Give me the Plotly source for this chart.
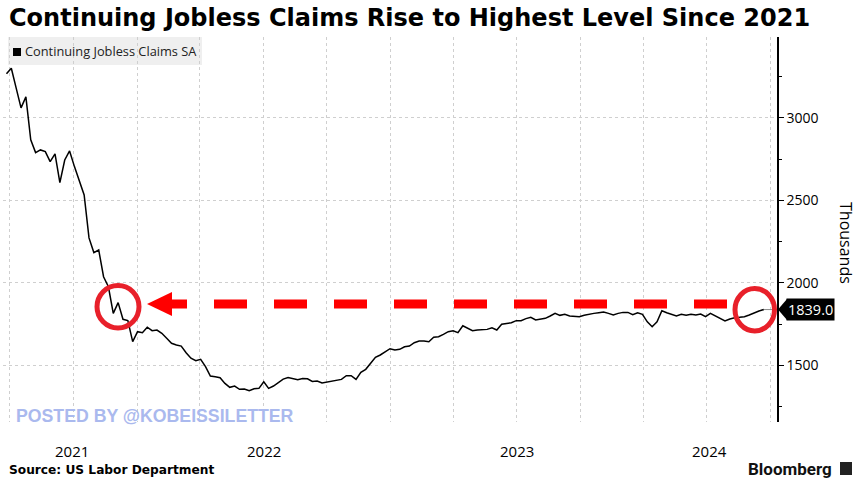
import pandas as pd
import plotly.graph_objects as go

# ---------------- data ----------------
start_week = "2021-06-26"
claims = [
    3267, 3301, 3180, 3061, 3127, 2867, 2790, 2806, 2796, 2735,
    2782, 2608, 2745, 2800, 2705, 2624, 2533, 2273, 2184, 2200,
    2038, 1977, 1816, 1881, 1780, 1772, 1645, 1705, 1699, 1732,
    1711, 1715, 1695, 1665, 1635, 1624, 1618, 1578, 1544, 1529,
    1538, 1493, 1436, 1432, 1426, 1392, 1368, 1376, 1356, 1358,
    1347, 1359, 1362, 1402, 1362, 1376, 1398, 1418, 1428, 1422,
    1414, 1422, 1420, 1404, 1406, 1394, 1400, 1404, 1412, 1416,
    1438, 1438, 1416, 1459, 1477, 1517, 1550, 1564, 1584, 1602,
    1594, 1598, 1614, 1618, 1638, 1648, 1648, 1644, 1671, 1675,
    1689, 1705, 1711, 1699, 1741, 1725, 1711, 1715, 1715, 1719,
    1729, 1715, 1750, 1756, 1759, 1772, 1772, 1784, 1792, 1776,
    1780, 1786, 1800, 1816, 1804, 1810, 1800, 1796, 1796, 1804,
    1812, 1816, 1820, 1824, 1816, 1806, 1816, 1822, 1822, 1808,
    1820, 1810, 1765, 1735, 1765, 1832, 1820, 1808, 1800, 1810,
    1804, 1810, 1806, 1812, 1796, 1816, 1800, 1786, 1770, 1782,
    1790, 1792, 1796, 1806, 1820, 1830, 1839,
]
dates = pd.date_range(start_week, periods=len(claims), freq="7D")

quarter_grid = pd.date_range("2021-07-01", "2024-07-01", freq="QS")
year_labels = ["2021", "2022", "2023", "2024"]
year_label_pos = ["2021-09-28", "2022-07-02", "2023-07-02", "2024-04-04"]
y_ticks = [1500, 2000, 2500, 3000]
x_range = ["2021-06-21", "2024-07-11"]
y_range = [1158, 3490]

title = "Continuing Jobless Claims Rise to Highest Level Since 2021"
series_name = "Continuing Jobless Claims SA"
source = "Source: US Labor Department"
watermark = "POSTED BY @KOBEISSILETTER"
last_val = claims[-1]

# ---------------- layout helpers ----------------
W, H = 863, 489
L, R, T, B = 3, 777, 37, 422


def px(x):
    return (x - L) / (R - L)


def py(y):
    return (B - y) / (B - T)


fig = go.Figure()
fig.add_trace(go.Scatter(x=dates, y=claims, mode="lines", name=series_name,
                         line=dict(color="black", width=1.5), hoverinfo="skip"))
fig.add_trace(go.Scatter(x=[dates[-1], x_range[1]], y=[last_val, last_val], mode="lines",
                         line=dict(color="#8a8a8a", width=1), hoverinfo="skip",
                         showlegend=False))

red = "#ff0000"
circ = "#e8202a"
shapes = [
    # legend box
    dict(type="rect", xref="paper", yref="paper", x0=px(8), x1=px(202), y0=py(65), y1=py(37),
         fillcolor="#efefef", line=dict(width=0), layer="below"),
    dict(type="rect", xref="paper", yref="paper", x0=px(13), x1=px(21), y0=py(56), y1=py(48),
         fillcolor="black", line=dict(width=0)),
    # red circles
    dict(type="circle", xref="paper", yref="paper", x0=px(97), x1=px(139), y0=py(328), y1=py(285.5),
         line=dict(color=circ, width=5)),
    dict(type="circle", xref="paper", yref="paper", x0=px(735), x1=px(774.5), y0=py(331), y1=py(288.5),
         line=dict(color=circ, width=5)),
    # dashed arrow shaft
    dict(type="line", xref="paper", yref="paper", x0=px(727), x1=px(170), y0=py(304), y1=py(304),
         line=dict(color=red, width=9, dash="33px,27px")),
    # arrow head
    dict(type="path", xref="paper", yref="paper",
         path=f"M {px(147)},{py(304)} L {px(172)},{py(292)} L {px(172)},{py(316)} Z",
         fillcolor=red, line=dict(width=0)),
    # last value pointer
    dict(type="path", xref="paper", yref="paper",
         path=f"M {px(778)},{py(309.5)} L {px(787)},{py(299)} L {px(787)},{py(320)} Z",
         fillcolor="black", line=dict(width=0)),
    # bloomberg icon
    dict(type="rect", xref="paper", yref="paper", x0=px(840), x1=px(852), y0=py(475), y1=py(462),
         fillcolor="#222", line=dict(width=0)),
]

annotations = [
    dict(text=f"<b>{title}</b>", xref="paper", yref="paper", x=px(7), y=py(18),
         xanchor="left", yanchor="middle", showarrow=False,
         font=dict(family="DejaVu Sans", size=24, color="black")),
    dict(text=series_name, xref="paper", yref="paper", x=px(23), y=py(51.5),
         xanchor="left", yanchor="middle", showarrow=False,
         font=dict(family="Open Sans", size=12.8, color="#222")),
    dict(text="Thousands", xref="paper", yref="paper", x=px(846), y=py(243),
         xanchor="center", yanchor="middle", showarrow=False, textangle=90,
         font=dict(family="Open Sans", size=16, color="black")),
    dict(text=f"{last_val:.1f}", xref="paper", yref="y", x=px(786), y=last_val,
         xanchor="left", yanchor="middle", showarrow=False, bgcolor="black", borderpad=1,
         font=dict(family="Open Sans", size=14.5, color="white")),
    dict(text=f"<b>{watermark}</b>", xref="paper", yref="paper", x=px(14), y=py(416),
         xanchor="left", yanchor="middle", showarrow=False,
         font=dict(family="Liberation Sans", size=17.7, color="#aab9ee")),
    dict(text=f"<b>{source}</b>", xref="paper", yref="paper", x=px(7), y=py(470),
         xanchor="left", yanchor="middle", showarrow=False,
         font=dict(family="DejaVu Sans", size=12.2, color="black")),
    dict(text="<b>Bloomberg</b>", xref="paper", yref="paper", x=px(834), y=py(469),
         xanchor="right", yanchor="middle", showarrow=False,
         font=dict(family="Roboto", size=17, color="#111")),
]
for lab, pos in zip(year_labels, year_label_pos):
    annotations.append(dict(text=lab, x=pos, xref="x", yref="paper", y=py(451),
                            xanchor="center", yanchor="middle", showarrow=False,
                            font=dict(family="Open Sans", size=15, color="black")))

fig.update_layout(
    width=W, height=H,
    margin=dict(l=L, r=W - R, t=T, b=H - B),
    paper_bgcolor="white", plot_bgcolor="white",
    showlegend=False,
    shapes=shapes, annotations=annotations,
    xaxis=dict(range=x_range, tickvals=list(quarter_grid), showticklabels=False,
               showgrid=True, gridcolor="#cfcfcf", griddash="dot", gridwidth=1,
               zeroline=False, showline=False, ticks=""),
    yaxis=dict(range=y_range, side="right", tickvals=y_ticks, showgrid=True,
               gridcolor="#cfcfcf", griddash="dot", gridwidth=1, zeroline=False,
               showline=True, linecolor="black", linewidth=1.5, ticks="outside",
               ticklen=5, tickwidth=1.2, tickcolor="black",
               minor=dict(dtick=250, tick0=0, ticks="outside", ticklen=3, tickcolor="black",
                          showgrid=False),
               tickfont=dict(family="Open Sans", size=14, color="black")),
)

fig.write_html("out.html", config={"displayModeBar": False},
               post_script="document.body.style.margin='0';document.body.style.overflow='hidden';")
